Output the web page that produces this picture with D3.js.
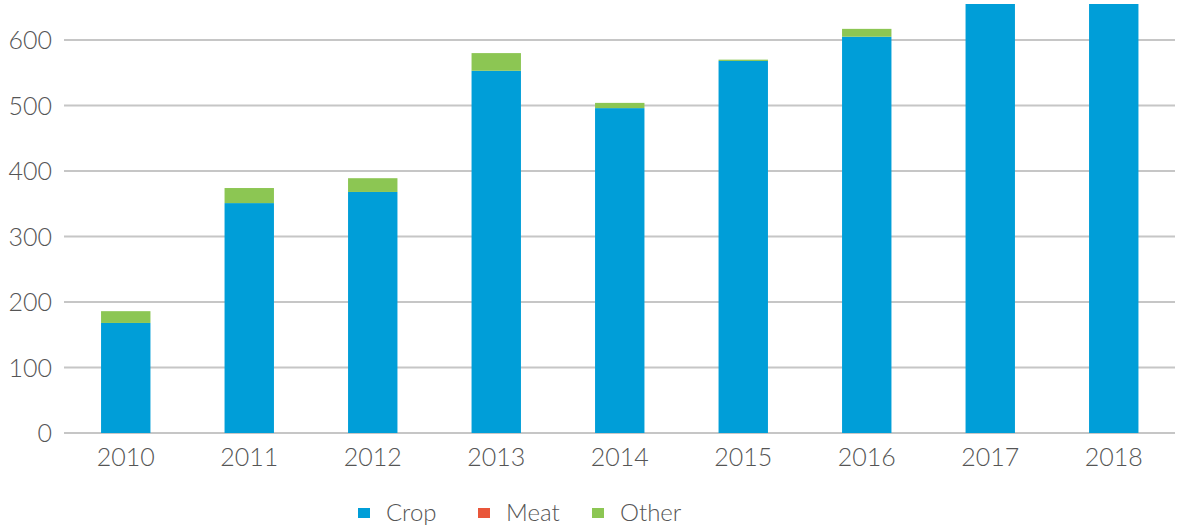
<!DOCTYPE html>
<html><head><meta charset="utf-8">
<script src="https://cdn.jsdelivr.net/npm/d3@7"></script>
<style>body{margin:0;background:#fff}svg{display:block}</style>
</head><body>
<svg id="c" width="1178" height="527"></svg>
<script>
const years = ["2010","2011","2012","2013","2014","2015","2016","2017","2018"];
const crop  = [168, 351, 368, 553, 496, 568, 605, 700, 700];
const meat  = [0, 0, 0, 0, 0, 0, 0, 0, 0];
const other = [18, 23, 21, 27, 8, 2, 12, 0, 0];
const seriesNames = ["Crop","Meat","Other"];
const colors = ["#009ed8","#e9563a","#8cc653"];
const yTicks = [0,100,200,300,400,500,600];

const svg = d3.select("#c");
const font = "Lato, 'Open Sans', sans-serif";
const x = d3.scaleBand().domain(years).range([64, 1175.5]).paddingInner(0.6).paddingOuter(0.3);
const y = d3.scaleLinear().domain([0, 600]).range([433, 40]);

svg.append("defs").append("clipPath").attr("id","clip")
  .append("rect").attr("x",0).attr("y",4).attr("width",1178).attr("height",440);

// grid
svg.append("g").selectAll("line").data(yTicks).join("line")
  .attr("x1",64).attr("x2",1175).attr("y1",d=>y(d)).attr("y2",d=>y(d))
  .attr("stroke","#c6c6c6").attr("stroke-width",2);

const rows = years.map((yr,i)=>({year:yr, Crop:crop[i], Meat:meat[i], Other:other[i]}));
const stacked = d3.stack().keys(seriesNames)(rows);
svg.append("g").attr("clip-path","url(#clip)").selectAll("g").data(stacked).join("g")
  .attr("fill",(d,i)=>colors[i])
  .selectAll("rect").data(d=>d).join("rect")
  .attr("x",d=>x(d.data.year)).attr("width",x.bandwidth())
  .attr("y",d=>y(d[1])).attr("height",d=>Math.max(0,y(d[0])-y(d[1])));

// y labels
const yAxis = d3.axisLeft(y).tickValues(yTicks).tickSize(0).tickPadding(0);
const ya = svg.append("g").attr("transform","translate(52,0)").call(yAxis);
ya.select(".domain").remove();
ya.selectAll("text").attr("font-family",font).attr("font-size",25).attr("font-weight",300)
  .attr("fill","#555").attr("dy","0.35em");

// x labels
const xAxis = d3.axisBottom(x).tickSize(0).tickPadding(0);
const xa = svg.append("g").attr("transform","translate(0,448)").call(xAxis);
xa.select(".domain").remove();
xa.selectAll("text").attr("font-family",font).attr("font-size",25).attr("font-weight",300)
  .attr("fill","#555").attr("dy","0.71em");

// legend
const legX = [358, 478, 592];
const lg = svg.append("g");
seriesNames.forEach((n,i)=>{
  lg.append("rect").attr("x",legX[i]).attr("y",508).attr("width",12).attr("height",10).attr("fill",colors[i]);
  lg.append("text").attr("x",legX[i]+28).attr("y",513).attr("dy","0.35em")
    .attr("font-family",font).attr("font-size",24).attr("font-weight",300).attr("fill","#555").text(n);
});
</script>
</body></html>
